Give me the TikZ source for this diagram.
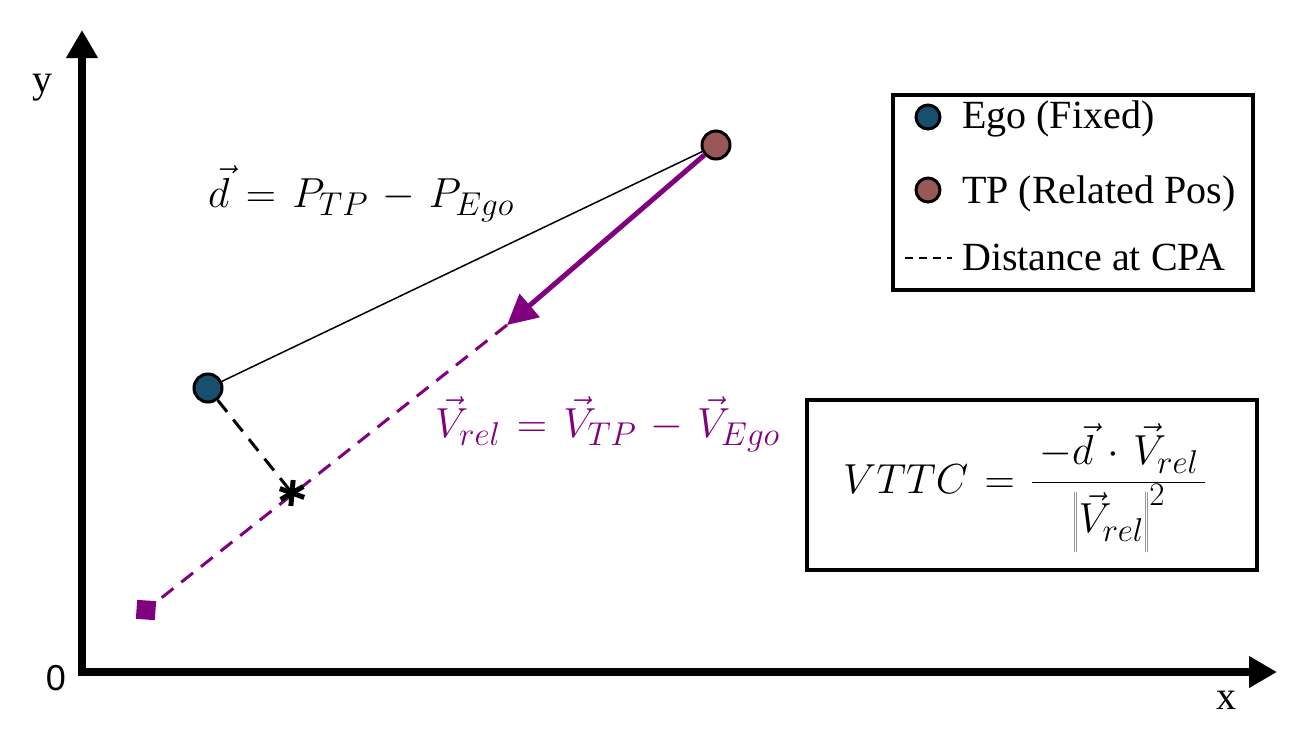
\documentclass[tikz,border=0pt]{standalone}
\usepackage{fix-cm}
\usepackage{fontspec}
\setmainfont{Liberation Serif}
\newfontfamily\axisfont{Liberation Sans}
\DeclareMathSizes{42}{42}{33}{25}
\thickmuskip=7mu plus 5mu
\medmuskip=6mu plus 2mu minus 4mu
\usetikzlibrary{arrows.meta}
\definecolor{egoblue}{RGB}{22,80,108}
\definecolor{tpred}{RGB}{152,88,88}
\definecolor{relpurple}{RGB}{128,0,128}
\tikzset{
  pos point/.style={circle,draw=black,line width=3pt,minimum size=28pt,inner sep=0pt},
  framebox/.style={draw=black,line width=4pt},
  cpa dash/.style={line width=3pt,dash pattern=on 15pt off 10pt},
  mathlab/.style={font=\fontsize{42}{48}\selectfont},
}
\begin{document}
\begin{tikzpicture}[x=1pt,y=-1pt,font=\fontsize{40}{46}\selectfont]
\useasboundingbox (0,0) rectangle (1306,750);
% axes
\draw[line width=8pt,-{Triangle[length=28pt,width=30pt]}] (82,676) -- (82,30);
\draw[line width=8pt,-{Triangle[length=28pt,width=30pt]}] (78,672) -- (1277,672);
\node (ylab) at (42,88) {y};
\node (xlab) at (1226,700) {x};
\node[font=\axisfont\fontsize{36}{40}\selectfont] (origin) at (56,678) {0};
% points
\node[pos point,fill=egoblue] (ego) at (208,388) {};
\node[pos point,fill=tpred] (tp) at (716,145) {};
\coordinate (tip) at (507,325);
\coordinate (cpa) at (292,493);
\node[fill=relpurple,minimum size=19pt,inner sep=0pt,rotate=-4] (start) at (146,610) {};
% lines
\draw[line width=1.5pt] (ego) -- (tp);
\draw[relpurple,line width=5pt,-{Triangle[length=30pt,width=30pt]}] (tp) -- (tip);
\draw[relpurple,cpa dash] (tip) -- (start);
\draw[cpa dash] (ego) -- (cpa);
\foreach \a in {95,20,150}
  \draw[line width=5pt] (cpa) ++(\a:13) -- ++(\a+180:26);
% labels
\node[mathlab,anchor=base west,inner sep=0pt] (dlab) at (208,207) {$\vec{d}=P_{TP}-P_{Ego}$};
\node[mathlab,anchor=base west,inner sep=0pt,text=relpurple] (vlab) at (435,437) {$\vec{V}_{rel}=\vec{V}_{TP}-\vec{V}_{Ego}$};
% legend
\draw[framebox] (893,95) rectangle (1253,290);
\node[pos point,fill=egoblue,minimum size=24pt] (legego) at (928,117) {};
\node[pos point,fill=tpred,minimum size=24pt] (legtp) at (928,190) {};
\coordinate (legd1) at (905,258);
\coordinate (legd2) at (952,258);
\draw[line width=2pt,dash pattern=on 8pt off 6pt] (legd1) -- (legd2);
\node[anchor=base west,inner sep=0pt] at (962,128) {Ego (Fixed)};
\node[anchor=base west,inner sep=0pt] at (962,203) {TP (Related Pos)};
\node[anchor=base west,inner sep=0pt] at (962,270) {Distance at CPA};
% formula
\draw[framebox] (807,400) rectangle (1257,570);
\node[mathlab,anchor=base west,inner sep=0pt] (vttc) at (843,493) {$\displaystyle VTTC=\frac{\,-\vec{d}\cdot\vec{V}_{rel}\,}{\left\|\vec{V}_{rel}\vphantom{V_{l_l}}\right\|^{2}}$};
\end{tikzpicture}
\end{document}
